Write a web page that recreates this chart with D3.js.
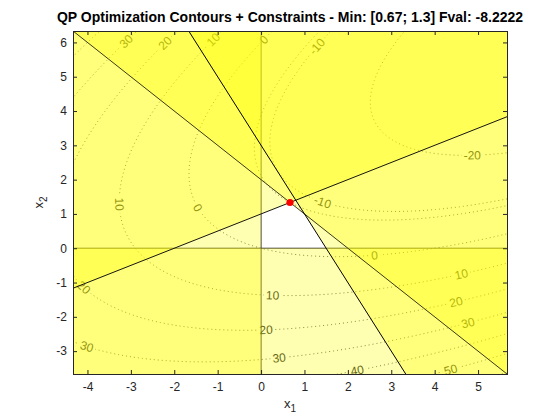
<!DOCTYPE html>
<html>
<head>
<meta charset="utf-8">
<script src="https://cdn.jsdelivr.net/npm/d3@7"></script>
<style>
  body { margin: 0; background: #fff; }
  text { font-family: "Liberation Sans", Arial, Helvetica, sans-serif; }
</style>
</head>
<body>
<div class="chart"></div>
<script>
// QP problem:  min 0.5*x'*H*x + f'*x   s.t.  A*x <= b,  x >= lb
var H = [[1, -1], [-1, 2]];
var f = [-2, -6];
var A = [[1, 1], [-1, 2], [2, 1]];
var b = [2, 2, 3];
var lb = [0, 0];
var xOpt = [0.6667, 1.3333];
var fval = -8.2222;

var levels = [-20, -10, fval, 0, 10, 20, 30, 40, 50, 60];
var xTicks = [-4, -3, -2, -1, 0, 1, 2, 3, 4, 5];
var yTicks = [-3, -2, -1, 0, 1, 2, 3, 4, 5, 6];
var xDomain = [-4.3333, 5.6667];
var yDomain = [-3.6667, 6.3333];

// where clabel put the labels: [level, x1, x2] (snapped to the contour below)
var labelSpots = [
  [30, -3.09, 6.0], [20, -2.17, 5.95], [10, -1.1, 6.07], [0, 0.07, 6.07], [-10, 1.31, 5.87],
  [-20, 4.86, 2.71], [-10, 1.43, 1.35], [0, 2.62, -0.2], [10, 4.59, -0.73], [20, 4.49, -1.57],
  [30, 4.75, -2.19], [50, 4.35, -3.53], [40, 2.21, -3.53],
  [10, 0.25, -1.36], [20, 0.14, -2.38], [30, 0.41, -3.2],
  [30, -4.01, -2.88], [20, -4.1, -1.14], [10, -3.29, 1.26], [0, -1.47, 1.2]
];

var svgWidth = 560;
var svgHeight = 420;
var margin = {top: 31, right: 53, bottom: 46, left: 73};
var width = svgWidth - margin.left - margin.right;
var height = svgHeight - margin.top - margin.bottom;

var lf = d3.formatLocale({decimal: ".", thousands: ",", grouping: [3], currency: ["", ""], minus: "-"});

var svg = d3.select(".chart")
  .append("svg")
  .attr("width", svgWidth)
  .attr("height", svgHeight);

var defs = svg.append("defs");
defs.append("clipPath").attr("id", "plotclip")
  .append("rect").attr("width", width).attr("height", height);

var chartGroup = svg.append("g")
  .attr("transform", `translate(${margin.left},${margin.top})`);

var xScale = d3.scaleLinear().domain(xDomain).range([0, width]);
var yScale = d3.scaleLinear().domain(yDomain).range([height, 0]);

function objective(x1, x2) {
  return 0.5 * (x1 * (H[0][0] * x1 + H[0][1] * x2) + x2 * (H[1][0] * x1 + H[1][1] * x2))
    + f[0] * x1 + f[1] * x2;
}

// grid a bit larger than the axes so the contour border edges fall outside
var step = 0.05;
var gx0 = xDomain[0] - 1, gy0 = yDomain[1] + 1;
var nx = Math.round((xDomain[1] - xDomain[0] + 2) / step) + 1;
var ny = Math.round((yDomain[1] - yDomain[0] + 2) / step) + 1;
var grid = new Array(nx * ny);
for (var j = 0; j < ny; j++) {
  for (var i = 0; i < nx; i++) {
    grid[j * nx + i] = objective(gx0 + i * step, gy0 - j * step);
  }
}
var contours = d3.contours().size([nx, ny]).thresholds(levels)(grid);

function gridToPx(p) {
  return [xScale(gx0 + (p[0] - 0.5) * step), yScale(gy0 - (p[1] - 0.5) * step)];
}
var proj = d3.geoTransform({
  point: function(x, y) {
    var p = gridToPx([x, y]);
    this.stream.point(p[0], p[1]);
  }
});
var path = d3.geoPath(proj);

var plot = chartGroup.append("g").attr("clip-path", "url(#plotclip)");

// contour labels first, so they can be measured for the mask
var contourLayer = plot.append("g");
var labelLayer = plot.append("g");

var labels = [];
labelSpots.forEach(function(s) {
  var c = contours.find(function(d) { return d.value === s[0]; });
  var target = [xScale(s[1]), yScale(s[2])];
  var best = null;
  c.coordinates.forEach(function(poly) {
    poly.forEach(function(ring) {
      var pts = ring.map(gridToPx);
      pts.forEach(function(p, k) {
        var d2 = (p[0] - target[0]) ** 2 + (p[1] - target[1]) ** 2;
        if (!best || d2 < best.d2) {
          var a = pts[Math.max(0, k - 2)], bb = pts[Math.min(pts.length - 1, k + 2)];
          best = {d2: d2, p: p, ang: Math.atan2(bb[1] - a[1], bb[0] - a[0]) * 180 / Math.PI};
        }
      });
    });
  });
  var ang = best.ang;
  while (ang > 90) ang -= 180;
  while (ang <= -90) ang += 180;
  labels.push({text: lf.format("")(s[0]), x: best.p[0], y: best.p[1], ang: ang});
});

var labelText = labelLayer.selectAll("text")
  .data(labels)
  .enter()
  .append("text")
  .attr("transform", d => `translate(${d.x},${d.y}) rotate(${d.ang})`)
  .attr("text-anchor", "middle")
  .attr("dy", "0.35em")
  .attr("font-size", 12)
  .attr("fill", "#262626")
  .text(d => d.text);

labelText.each(function(d) { d.w = this.getComputedTextLength(); });

var mask = defs.append("mask").attr("id", "lblmask")
  .attr("maskUnits", "userSpaceOnUse")
  .attr("x", -margin.left).attr("y", -margin.top)
  .attr("width", svgWidth).attr("height", svgHeight);
mask.append("rect")
  .attr("x", -margin.left).attr("y", -margin.top)
  .attr("width", svgWidth).attr("height", svgHeight)
  .attr("fill", "#fff");
mask.selectAll("rect.hole")
  .data(labels)
  .enter()
  .append("rect")
  .attr("class", "hole")
  .attr("x", d => -d.w / 2 - 2)
  .attr("y", -6)
  .attr("width", d => d.w + 4)
  .attr("height", 12)
  .attr("transform", d => `translate(${d.x},${d.y}) rotate(${d.ang})`)
  .attr("fill", "#000");

contourLayer.attr("mask", "url(#lblmask)")
  .selectAll("path")
  .data(contours)
  .enter()
  .append("path")
  .attr("d", path)
  .attr("fill", "none")
  .attr("stroke", "#555")
  .attr("stroke-width", 1)
  .attr("stroke-dasharray", "1,3");

// bound lines x1 = 0, x2 = 0
plot.append("line")
  .attr("x1", xScale(lb[0])).attr("x2", xScale(lb[0]))
  .attr("y1", 0).attr("y2", height)
  .attr("stroke", "#333").attr("stroke-width", 1);
plot.append("line")
  .attr("x1", 0).attr("x2", width)
  .attr("y1", yScale(lb[1])).attr("y2", yScale(lb[1]))
  .attr("stroke", "#333").attr("stroke-width", 1);

// infeasible half-planes, each one a translucent yellow layer
var rows = A.concat([[-1, 0], [0, -1]]);
var rhs = b.concat([-lb[0], -lb[1]]);
var box = [[xDomain[0], yDomain[0]], [xDomain[1], yDomain[0]], [xDomain[1], yDomain[1]], [xDomain[0], yDomain[1]]];

function clipHalf(poly, a, c) {
  // keep the part where a.p >= c
  var out = [];
  for (var k = 0; k < poly.length; k++) {
    var P = poly[k], Q = poly[(k + 1) % poly.length];
    var dP = a[0] * P[0] + a[1] * P[1] - c;
    var dQ = a[0] * Q[0] + a[1] * Q[1] - c;
    if (dP >= 0) out.push(P);
    if ((dP >= 0) !== (dQ >= 0)) {
      var t = dP / (dP - dQ);
      out.push([P[0] + (Q[0] - P[0]) * t, P[1] + (Q[1] - P[1]) * t]);
    }
  }
  return out;
}

var regions = rows.map((a, k) => clipHalf(box, a, rhs[k]));
plot.selectAll("path.region")
  .data(regions)
  .enter()
  .append("path")
  .attr("class", "region")
  .attr("d", d => "M" + d.map(p => [xScale(p[0]), yScale(p[1])].join(",")).join("L") + "Z")
  .attr("fill", "#ffff00")
  .attr("fill-opacity", 0.3);

// constraint lines A*x = b
var lineColors = ["#3a3a16", "#141410", "#000"];
plot.selectAll("line.con")
  .data(A)
  .enter()
  .append("line")
  .attr("class", "con")
  .attr("x1", xScale(xDomain[0]))
  .attr("y1", (a, k) => yScale((b[k] - a[0] * xDomain[0]) / a[1]))
  .attr("x2", xScale(xDomain[1]))
  .attr("y2", (a, k) => yScale((b[k] - a[0] * xDomain[1]) / a[1]))
  .attr("stroke", (a, k) => lineColors[k])
  .attr("stroke-width", 1);

// minimum
plot.append("circle")
  .attr("cx", xScale(xOpt[0]))
  .attr("cy", yScale(xOpt[1]))
  .attr("r", 3.6)
  .attr("fill", "#ff0000");

// axes, MATLAB style: box, ticks inside
var fmt = d => lf.format("")(d);
function styleAxis(g) {
  g.select(".domain").remove();
  g.selectAll(".tick line").attr("stroke", "#262626");
  g.selectAll(".tick text").attr("fill", "#262626").attr("font-size", 12)
    .attr("font-family", '"Liberation Sans", Arial, sans-serif');
}
chartGroup.append("g")
  .attr("transform", `translate(0, ${height})`)
  .call(d3.axisBottom(xScale).tickValues(xTicks).tickFormat(fmt).tickSizeInner(-4).tickPadding(8))
  .call(styleAxis);
chartGroup.append("g")
  .call(d3.axisTop(xScale).tickValues(xTicks).tickFormat("").tickSizeInner(-4))
  .call(styleAxis);
chartGroup.append("g")
  .call(d3.axisLeft(yScale).tickValues(yTicks).tickFormat(fmt).tickSizeInner(-4).tickPadding(6))
  .call(styleAxis);
chartGroup.append("g")
  .attr("transform", `translate(${width}, 0)`)
  .call(d3.axisRight(yScale).tickValues(yTicks).tickFormat("").tickSizeInner(-4))
  .call(styleAxis);

chartGroup.append("rect")
  .attr("x", 0).attr("y", 0)
  .attr("width", width).attr("height", height)
  .attr("fill", "none")
  .attr("stroke", "#262626")
  .attr("stroke-width", 1)
  .attr("shape-rendering", "crispEdges");

// title and axis labels
var fmt2 = lf.format(".2");
svg.append("text")
  .attr("x", margin.left + width / 2)
  .attr("y", 22)
  .attr("text-anchor", "middle")
  .attr("font-size", 14)
  .attr("font-weight", "bold")
  .attr("fill", "#000")
  .text(`QP Optimization Contours + Constraints - Min: [${fmt2(xOpt[0])}; ${fmt2(xOpt[1])}] Fval: ${lf.format(".5")(fval)}`);

var xl = svg.append("text")
  .attr("x", margin.left + width / 2)
  .attr("y", 408)
  .attr("text-anchor", "middle")
  .attr("font-size", 13)
  .attr("fill", "#262626");
xl.append("tspan").text("x");
xl.append("tspan").attr("dy", 4).attr("font-size", 10).text("1");

var yl = svg.append("text")
  .attr("transform", `translate(43, ${margin.top + height / 2}) rotate(-90)`)
  .attr("text-anchor", "middle")
  .attr("font-size", 13)
  .attr("fill", "#262626");
yl.append("tspan").text("x");
yl.append("tspan").attr("dy", 4).attr("font-size", 10).text("2");
</script>
</body>
</html>
